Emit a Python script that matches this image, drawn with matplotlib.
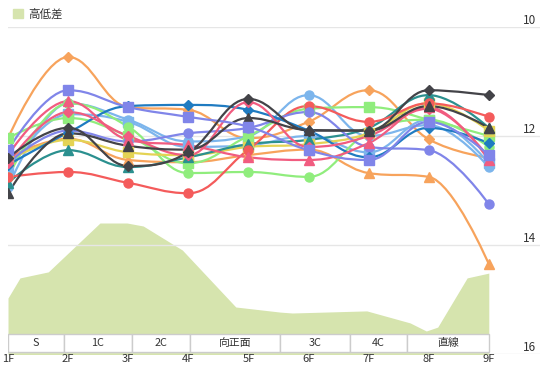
import matplotlib
matplotlib.use("Agg")
import matplotlib.pyplot as plt
from matplotlib.path import Path
from matplotlib.patches import PathPatch, Rectangle, Patch

plt.rcParams['font.family'] = ['Noto Sans CJK JP', 'DejaVu Sans']

# furlong categories
furlongs = ["1F", "2F", "3F", "4F", "5F", "6F", "7F", "8F", "9F"]

# lap/position lines (one per runner)
orange_d = [12.04, 10.55, 11.47, 11.52, 12.04, 11.74, 11.16, 12.06, 12.40]
orange_t = [12.40, 12.05, 12.44, 12.48, 12.35, 12.25, 12.68, 12.75, 14.35]
purple_s = [12.26, 11.16, 11.47, 11.65, 11.83, 12.26, 12.44, 11.74, 12.35]
purple_c = [12.50, 11.90, 12.10, 11.95, 11.85, 11.56, 12.20, 12.26, 13.25]
lblue_s = [12.62, 11.60, 11.74, 12.20, 12.17, 12.00, 12.30, 11.70, 12.50]
lblue_c = [12.94, 11.40, 11.70, 12.10, 12.00, 11.25, 12.00, 11.80, 12.57]
blue_d = [12.53, 11.94, 11.45, 11.43, 11.52, 11.90, 12.39, 11.85, 12.13]
dark_d = [12.40, 11.85, 12.55, 12.30, 11.32, 11.90, 11.90, 11.16, 11.25]
dark_t = [13.05, 11.95, 12.18, 12.25, 11.67, 11.89, 11.90, 11.45, 11.85]
pink_t = [12.35, 11.36, 12.07, 12.17, 12.39, 12.44, 12.13, 11.47, 12.44]
pink_d = [12.50, 11.56, 12.00, 12.35, 11.38, 12.20, 12.00, 11.50, 12.40]
green_s = [12.04, 11.67, 12.00, 12.50, 12.00, 11.50, 11.47, 11.70, 12.00]
green_c = [12.75, 11.40, 11.83, 12.68, 12.66, 12.75, 11.93, 11.70, 12.20]
teal_t = [12.86, 12.26, 12.57, 12.39, 12.15, 12.07, 11.85, 11.25, 11.85]
yellow_s = [12.45, 12.07, 12.30, 12.35, 12.20, 12.15, 11.95, 11.40, 11.90]
red_c = [12.75, 12.66, 12.86, 13.05, 12.25, 11.45, 11.74, 11.40, 11.65]

# course elevation profile (position in furlongs from 1F, height in m)
elev_pos = [0.0, 0.2, 0.67, 1.53, 1.98, 2.25, 2.9, 3.79, 4.53, 4.73, 5.97, 6.69, 6.96, 7.15, 7.64, 8.0]
elev_h = [1.2, 1.87, 2.07, 3.7, 3.7, 3.6, 2.8, 0.9, 0.73, 0.7, 0.77, 0.37, 0.1, 0.23, 1.87, 2.03]

# course sections
sections = ["S", "1C", "2C", "向正面", "3C", "4C", "直線"]
section_edges = [0.0, 0.93, 2.06, 3.03, 4.53, 5.69, 6.64, 8.0]

series = [
    (orange_d, '#f7a35c', 'D'),
    (orange_t, '#f7a35c', '^'),
    (lblue_s, '#7cb5ec', 's'),
    (lblue_c, '#7cb5ec', 'o'),
    (green_c, '#90ed7d', 'o'),
    (green_s, '#90ed7d', 's'),
    (yellow_s, '#e4d354', 's'),
    (teal_t, '#2b908f', '^'),
    (red_c, '#f45b5b', 'o'),
    (purple_c, '#8085e9', 'o'),
    (blue_d, '#1f7bc1', 'D'),
    (pink_d, '#f15c80', 'D'),
    (pink_t, '#f15c80', '^'),
    (dark_t, '#434348', '^'),
    (purple_s, '#8085e9', 's'),
    (dark_d, '#434348', 'D'),
]


def spline_path(xs, ys, smoothing=1.5):
    denom = smoothing + 1
    n = len(xs)
    conts = []
    for i in range(n):
        px, py = xs[i], ys[i]
        if 0 < i < n - 1:
            lx, ly = xs[i - 1], ys[i - 1]
            nx, ny = xs[i + 1], ys[i + 1]
            lcx = (smoothing * px + lx) / denom
            lcy = (smoothing * py + ly) / denom
            rcx = (smoothing * px + nx) / denom
            rcy = (smoothing * py + ny) / denom
            if rcx != lcx:
                corr = (rcy - lcy) * (rcx - px) / (rcx - lcx) + py - rcy
                lcy += corr
                rcy += corr
            if lcy > ly and lcy > py:
                lcy = max(ly, py); rcy = 2 * py - lcy
            elif lcy < ly and lcy < py:
                lcy = min(ly, py); rcy = 2 * py - lcy
            if rcy > ny and rcy > py:
                rcy = max(ny, py); lcy = 2 * py - rcy
            elif rcy < ny and rcy < py:
                rcy = min(ny, py); lcy = 2 * py - rcy
            conts.append((lcx, lcy, rcx, rcy))
        else:
            conts.append((px, py, px, py))
    verts = [(xs[0], ys[0])]
    codes = [Path.MOVETO]
    for i in range(1, n):
        verts += [(conts[i - 1][2], conts[i - 1][3]), (conts[i][0], conts[i][1]), (xs[i], ys[i])]
        codes += [Path.CURVE4] * 3
    return Path(verts, codes)


W, H = 544, 365
fig = plt.figure(figsize=(W / 100, H / 100), dpi=100)
rect = [8 / W, 1 - 354 / H, 532 / W, 327 / H]
ax_area = fig.add_axes(rect)
ax = ax_area.twinx()

xmax = 532 / 60.1
x = list(range(len(furlongs)))

# elevation area + section band
ax_area.fill_between(elev_pos, elev_h, -1, color='#d6e4ae', lw=0, zorder=1)
ax_area.set_ylim(-20 / 30, 307 / 30)
ax_area.set_xlim(0, xmax)
band_bottom = -18 / 30
for name, x0, x1 in zip(sections, section_edges[:-1], section_edges[1:]):
    ax_area.add_patch(Rectangle((x0, band_bottom), x1 - x0, -band_bottom,
                                facecolor='white', edgecolor='#cccccc', lw=1, zorder=3))
    ax_area.text((x0 + x1) / 2, band_bottom / 2, name, ha='center', va='center',
                 fontsize=7.8, color='#333333', zorder=4)
ax_area.set_yticks([])
for s in ax_area.spines.values():
    s.set_visible(False)
ax_area.set_xticks(x)
ax_area.set_xticklabels(furlongs)
ax_area.tick_params(axis='x', length=0, pad=0, labelsize=8, labelcolor='#333333')

# runner lines
for vals, color, mk in series:
    ax.add_patch(PathPatch(spline_path(x, vals), facecolor='none', edgecolor=color, lw=1.6, zorder=2))
    ax.plot(x, vals, ls='none', marker=mk, color=color, mec=color,
            ms={'o': 6.5, 's': 6.5, 'D': 5.5, '^': 7}[mk], zorder=3)

ax.set_ylim(16, 10)
ax.set_xlim(0, xmax)
ax.set_yticks([10, 12, 14, 16])
ax.grid(axis='y', color='#e6e6e6', lw=1, zorder=0)
ax.tick_params(axis='y', length=0, pad=-3, labelsize=8.5, labelcolor='#333333')
for lab in ax.get_yticklabels():
    lab.set_ha('right')
    lab.set_va('bottom')
for s in ax.spines.values():
    s.set_visible(False)
ax.patch.set_visible(False)

fig.legend(handles=[Patch(color='#d6e4ae')], labels=['高低差'], loc='upper left',
           bbox_to_anchor=(3 / W, 1 + 3 / H), frameon=False, fontsize=8.3,
           handlelength=0.85, handleheight=0.85, handletextpad=0.45, labelcolor='#333333')

fig.savefig('out.png', dpi=100)
